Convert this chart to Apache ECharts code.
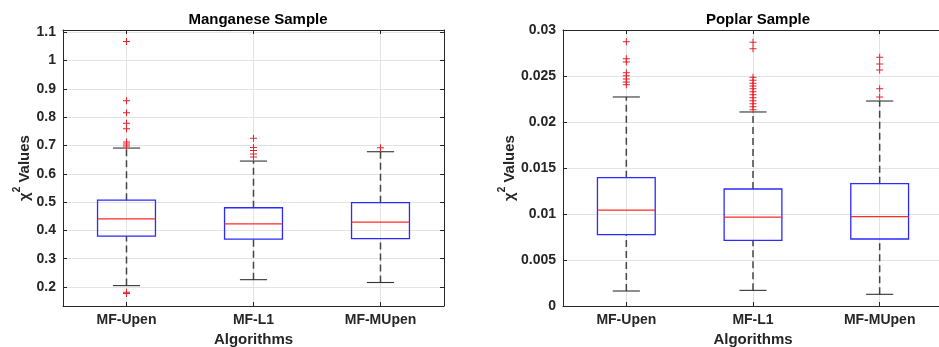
<!DOCTYPE html>
<html>
<head>
<meta charset="utf-8">
<script src="https://cdn.jsdelivr.net/npm/echarts@6/dist/echarts.min.js"></script>
<style>
html,body{margin:0;padding:0;background:#fff;}
#chart{width:939px;height:347px;}
</style>
</head>
<body>
<div id="chart"></div>
<script>
// ---- Data ----
const categories = ['MF-Upen', 'MF-L1', 'MF-MUpen'];
const titles = ['Manganese Sample', 'Poplar Sample'];
const xName = 'Algorithms';

// box stats: [lowerWhisker, Q1, median, Q3, upperWhisker]
const manganeseBoxes = [
  [0.205, 0.380, 0.441, 0.507, 0.691],
  [0.226, 0.369, 0.423, 0.480, 0.645],
  [0.216, 0.371, 0.429, 0.498, 0.678]
];
const manganeseOutliers = [
  [1.067, 0.858, 0.816, 0.779, 0.759, 0.712, 0.705, 0.698, 0.182, 0.177],
  [0.726, 0.693, 0.682, 0.670, 0.659],
  [0.692]
];
const poplarBoxes = [
  [0.00163, 0.00775, 0.01043, 0.01395, 0.02272],
  [0.00170, 0.00714, 0.00967, 0.01272, 0.02109],
  [0.00127, 0.00728, 0.00971, 0.01330, 0.02228]
];
const poplarOutliers = [
  [0.02873, 0.02688, 0.02652, 0.02536, 0.02503, 0.02467, 0.02435, 0.02405],
  [0.02866, 0.02797, 0.02486, 0.02453, 0.02421, 0.02391, 0.02362, 0.02329, 0.02297, 0.02264, 0.02232, 0.02199, 0.02166, 0.02134],
  [0.02703, 0.02630, 0.02565, 0.02362, 0.02272]
];
const manganeseTicks = [0.2, 0.3, 0.4, 0.5, 0.6, 0.7, 0.8, 0.9, 1, 1.1];
const manganeseRange = [0.133, 1.108];
const poplarRange = [0, 0.03];
const poplarInterval = 0.005;
const xTickPositions = [1, 2, 3];

// ---- Styles ----
const FONT = '"Liberation Sans", Arial, Helvetica, sans-serif';
const TXT = '#262626';
const AX = '#262626';
const GRIDC = '#e3e3e3';

const chart = echarts.init(document.getElementById('chart'), null, {renderer: 'canvas'});

function renderBox(params, api) {
  const x = api.value(0);
  const band = api.size([1, 0])[0];
  const hw = band * 0.228, cw = band * 0.107;
  const lo = api.coord([x, api.value(1)]);
  const q1 = api.coord([x, api.value(2)]);
  const md = api.coord([x, api.value(3)]);
  const q3 = api.coord([x, api.value(4)]);
  const hi = api.coord([x, api.value(5)]);
  const cx = lo[0];
  const dashStyle = {stroke: '#454545', lineWidth: 1.5, lineDash: [7, 4], fill: null};
  const capStyle = {stroke: '#333', lineWidth: 1.1, fill: null};
  return {
    type: 'group',
    children: [
      {type: 'line', shape: {x1: cx, y1: q3[1], x2: cx, y2: hi[1]}, style: dashStyle},
      {type: 'line', shape: {x1: cx, y1: lo[1], x2: cx, y2: q1[1]}, style: dashStyle},
      {type: 'line', shape: {x1: cx - cw, y1: hi[1], x2: cx + cw, y2: hi[1]}, style: capStyle},
      {type: 'line', shape: {x1: cx - cw, y1: lo[1], x2: cx + cw, y2: lo[1]}, style: capStyle},
      {type: 'rect', shape: {x: cx - hw, y: q3[1], width: 2 * hw, height: q1[1] - q3[1]},
        style: {stroke: '#2b2bff', lineWidth: 1.3, fill: null}},
      {type: 'line', shape: {x1: cx - hw, y1: md[1], x2: cx + hw, y2: md[1]},
        style: {stroke: '#ff2a2a', lineWidth: 1.2}}
    ]
  };
}

const plusPath = 'path://M3,0H4V3H7V4H4V7H3V4H0V3H3Z';

function boxData(boxes) {
  return boxes.map((b, i) => [xTickPositions[i]].concat(b));
}
function outlierData(outs) {
  const arr = [];
  outs.forEach((list, i) => list.forEach(v => arr.push([xTickPositions[i], v])));
  return arr;
}

const labelFont = {color: TXT, fontFamily: FONT, fontWeight: 'bold', fontSize: 14};

function xAxes(gi) {
  return [
    {
      type: 'value', gridIndex: gi, min: 0.5, max: 3.5, position: 'bottom',
      axisLine: {show: true, onZero: false, lineStyle: {color: AX, width: 1}},
      axisTick: {show: true, inside: true, length: 4, customValues: xTickPositions, lineStyle: {color: AX}},
      axisLabel: Object.assign({customValues: xTickPositions, margin: 7,
        formatter: v => categories[Math.round(v) - 1] || ''}, labelFont),
      splitLine: {show: true, lineStyle: {color: GRIDC, width: 1}},
      name: xName, nameLocation: 'middle', nameGap: 25,
      nameTextStyle: {color: TXT, fontFamily: FONT, fontWeight: 'bold', fontSize: 15}
    },
    {
      type: 'value', gridIndex: gi, min: 0.5, max: 3.5, position: 'top',
      axisLine: {show: true, onZero: false, lineStyle: {color: AX, width: 1}},
      axisTick: {show: true, inside: true, length: 4, customValues: xTickPositions, lineStyle: {color: AX}},
      axisLabel: {show: false}, splitLine: {show: false}
    }
  ];
}

const yNameRich = {
  c: {fontFamily: FONT, fontWeight: 'bold', fontSize: 15, color: TXT, lineHeight: 20, verticalAlign: 'bottom'},
  s: {fontFamily: FONT, fontWeight: 'bold', fontSize: 10, color: TXT, lineHeight: 20, verticalAlign: 'top'}
};

function yAxes(gi, range, opts, nameGap, mirrorTicks) {
  const main = Object.assign({
    type: 'value', gridIndex: gi, min: range[0], max: range[1], position: 'left',
    axisLine: {show: true, lineStyle: {color: AX, width: 1}},
    axisTick: {show: true, inside: true, length: 4, lineStyle: {color: AX}},
    axisLabel: Object.assign({margin: 7, showMinLabel: true, showMaxLabel: true}, labelFont),
    splitLine: {show: true, lineStyle: {color: GRIDC, width: 1}},
    name: '{c|χ}{s|2}{c| Values}', nameLocation: 'middle', nameGap: nameGap, nameRotate: 90,
    nameTextStyle: {rich: yNameRich}
  }, opts.main);
  if (opts.tickValues) {
    main.axisTick.customValues = opts.tickValues;
    main.axisLabel.customValues = opts.tickValues;
    main.axisLabel.formatter = v => String(v);
  }
  const mirror = {
    type: 'value', gridIndex: gi, min: range[0], max: range[1], position: 'right',
    axisLine: {show: true, lineStyle: {color: AX, width: 1}},
    axisTick: {show: mirrorTicks, inside: true, length: 4, lineStyle: {color: AX}},
    axisLabel: {show: false}, splitLine: {show: false}
  };
  if (opts.main && opts.main.interval) mirror.interval = opts.main.interval;
  if (opts.tickValues) mirror.axisTick.customValues = opts.tickValues;
  return [main, mirror];
}

const option = {
  animation: false,
  backgroundColor: '#fff',
  title: [
    {text: titles[0], left: 253, top: 7, textAlign: 'center',
      textStyle: {fontFamily: FONT, fontWeight: 'bold', fontSize: 15, color: '#000'}},
    {text: titles[1], left: 753, top: 7, textAlign: 'center',
      textStyle: {fontFamily: FONT, fontWeight: 'bold', fontSize: 15, color: '#000'}}
  ],
  grid: [
    {left: 63, right: 495, top: 30, bottom: 41, containLabel: false, outerBoundsMode: 'none'},
    {left: 563, right: -4, top: 30, bottom: 41, containLabel: false, outerBoundsMode: 'none'}
  ],
  xAxis: xAxes(0).concat(xAxes(1)),
  yAxis: yAxes(0, manganeseRange, {tickValues: manganeseTicks}, 29, true)
    .concat(yAxes(1, poplarRange, {main: {interval: poplarInterval}}, 45, false)),
  series: [
    {type: 'custom', xAxisIndex: 0, yAxisIndex: 0, renderItem: renderBox,
      data: boxData(manganeseBoxes), z: 3},
    {type: 'scatter', xAxisIndex: 0, yAxisIndex: 0, symbol: plusPath, symbolSize: 7,
      itemStyle: {color: '#e8202a', opacity: 1}, data: outlierData(manganeseOutliers), z: 4},
    {type: 'custom', xAxisIndex: 2, yAxisIndex: 2, renderItem: renderBox,
      data: boxData(poplarBoxes), z: 3},
    {type: 'scatter', xAxisIndex: 2, yAxisIndex: 2, symbol: plusPath, symbolSize: 7,
      itemStyle: {color: '#e8202a', opacity: 1}, data: outlierData(poplarOutliers), z: 4}
  ]
};
chart.setOption(option);
</script>
</body>
</html>
